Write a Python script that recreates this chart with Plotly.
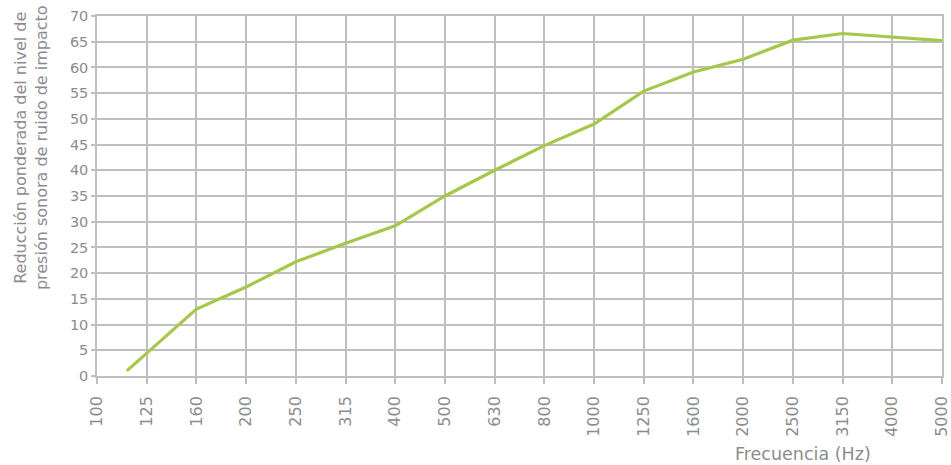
import plotly.graph_objects as go

freq_labels = ["100", "125", "160", "200", "250", "315", "400", "500", "630", "800",
               "1000", "1250", "1600", "2000", "2500", "3150", "4000", "5000"]
# position of each data point along the category axis (first point lies between 100 and 125)
point_pos = [0.6, 2, 3, 4, 5, 6, 7, 8, 9, 10, 11, 12, 13, 14, 15, 16, 17]
reduction = [1.0, 13.0, 17.3, 22.2, 25.8, 29.2, 35.0, 40.0, 44.8, 49.0,
             55.4, 59.1, 61.6, 65.3, 66.6, 65.9, 65.2]
y_ticks = list(range(0, 75, 5))

grey = "#8c8c8c"
grid = "#bfbfbf"
font_family = "'DejaVu Sans', sans-serif"

fig = go.Figure()
fig.add_trace(go.Scatter(
    x=point_pos, y=reduction, mode="lines",
    line=dict(color="#a5c84b", width=3.2),
    showlegend=False, hoverinfo="skip",
))

fig.update_layout(
    width=951, height=465,
    margin=dict(l=97, r=9, t=16, b=89),
    paper_bgcolor="white", plot_bgcolor="white",
    font=dict(family=font_family, color=grey, size=14),
    xaxis=dict(
        range=[0, len(freq_labels) - 1],
        tickvals=list(range(len(freq_labels))),
        ticktext=freq_labels,
        tickangle=-90,
        showgrid=True, gridcolor=grid, gridwidth=1.5,
        showline=True, linecolor=grid, linewidth=1.5,
        ticks="outside", ticklen=6, tickcolor=grid, tickwidth=1.5,
        ticklabelstandoff=6, ticklabeloverflow="allow",
        tickfont=dict(size=16, color=grey),
        zeroline=False, mirror=True, automargin=False,
    ),
    yaxis=dict(
        range=[0, 70],
        tickvals=y_ticks,
        showgrid=True, gridcolor=grid, gridwidth=1.5,
        showline=True, linecolor=grid, linewidth=1.5,
        ticks="outside", ticklen=4, tickcolor=grid, tickwidth=1.5,
        tickfont=dict(size=14.5, color=grey),
        zeroline=False, mirror=True, automargin=False,
    ),
    annotations=[
        dict(
            text="Frecuencia (Hz)", xref="paper", yref="paper",
            x=0.8355, y=-0.2167, xanchor="center", yanchor="middle",
            showarrow=False, font=dict(size=17.5, color=grey),
        ),
        dict(
            text="Reducción ponderada del nivel de<br>presión sonora de ruido de impacto",
            xref="paper", yref="paper", x=0, y=0.633,
            xanchor="center", yanchor="middle", xshift=-66,
            textangle=-90, showarrow=False,
            font=dict(size=16, color=grey),
        ),
    ],
)

# remove the browser's default page margin so the figure sits at the top-left corner
fig.write_html("out.html", config={"displayModeBar": False},
               post_script="document.body.style.margin='0';")
